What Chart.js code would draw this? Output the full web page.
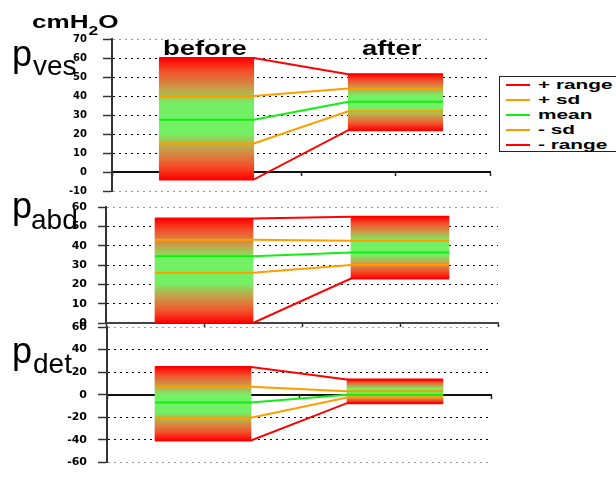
<!DOCTYPE html>
<html><head><meta charset="utf-8">
<script src="https://cdn.jsdelivr.net/npm/chart.js@4/dist/chart.umd.min.js"></script>
<style>
html,body{margin:0;padding:0;background:#fff;overflow:hidden;width:616px;height:480px;}
#wrap{position:relative;width:616px;height:480px;overflow:hidden;background:#fff;}
canvas{position:absolute;left:0;top:0;}
.t{position:absolute;white-space:nowrap;line-height:1;transform-origin:0 0;color:#000;}
.b{font-family:'Liberation Sans',Arial,sans-serif;font-weight:bold;}
.r{font-family:'Liberation Sans',Arial,sans-serif;font-weight:normal;}
#legend{position:absolute;left:499px;top:76px;width:140px;height:76px;box-sizing:border-box;border:1.5px solid #222;background:#fff;}
.lg-line{position:absolute;height:2px;width:24px;}
</style></head><body><div id="wrap">
<canvas id="c1" width="616" height="480"></canvas>
<canvas id="c2" width="616" height="480"></canvas>
<canvas id="c3" width="616" height="480"></canvas>
</div>
<script>
// ---------------- data ----------------
const categories = ['before', 'after'];
const seriesNames = ['+ range', '+ sd', 'mean', '- sd', '- range'];
const seriesColors = ['#ff0000', '#ff9d00', '#12ee12', '#ff9d00', '#ff0000'];

const pvesBefore = [60, 40, 27.5, 15, -4];
const pvesAfter  = [51.5, 44, 37, 32, 22];
const pabdBefore = [54, 43, 34.5, 26, 0];
const pabdAfter  = [55, 42.5, 36.5, 30, 23];
const pdetBefore = [24.5, 7, -7, -20.5, -40.5];
const pdetAfter  = [13.5, 3, 0, -2.5, -7.5];

const pvesTicks = [-10, 70, 10];   // min, max, step
const pabdTicks = [0, 60, 10];
const pdetTicks = [-60, 60, 20];

// ---------------- layout / style ----------------
Chart.defaults.font.family = "'DejaVu Sans', sans-serif";
const panels = [
  {id:'c1', before:pvesBefore, after:pvesAfter, ticks:pvesTicks, sub:'ves',
   left:112, right:490, top:39, bottom:191, font:10, tickLen:9, pad:16, xBorder:'#111',
   pTop:35.5, subTop:51.5, subLeft:33},
  {id:'c2', before:pabdBefore, after:pabdAfter, ticks:pabdTicks, sub:'abd',
   left:106, right:498, top:207, bottom:323, font:11, tickLen:8, pad:11, xBorder:'#444',
   pTop:187.5, subTop:205.5, subLeft:31},
  {id:'c3', before:pdetBefore, after:pdetAfter, ticks:pdetTicks, sub:'det',
   left:107, right:491, top:327, bottom:474, font:11, tickLen:9, pad:11, xBorder:'#111',
   pTop:332.5, subTop:349.5, subLeft:33}
];
const W = 616, H = 480;
const catX = categories.map((c, i) => 1 + 2 * i);

function barFill(ctx) {
  const fallback = '#74f064';
  if (ctx.type !== 'data') return fallback;
  const chart = ctx.chart, ys = chart.scales && chart.scales.y;
  if (!chart.chartArea || !ys || !ctx.raw) return fallback;
  const r = ctx.raw.y;
  const t = ys.getPixelForValue(Math.max(r[0], r[1]));
  const b = ys.getPixelForValue(Math.min(r[0], r[1]));
  if (!isFinite(t) || !isFinite(b) || b - t < 1) return fallback;
  const g = chart.ctx.createLinearGradient(0, t, 0, b);
  g.addColorStop(0, '#ff0000');
  g.addColorStop(0.12, '#f2552e');
  g.addColorStop(0.26, '#c6a24a');
  g.addColorStop(0.38, '#74f064');
  g.addColorStop(0.62, '#74f064');
  g.addColorStop(0.74, '#c6a24a');
  g.addColorStop(0.88, '#f2552e');
  g.addColorStop(1, '#ff0000');
  return g;
}

panels.forEach(p => {
  const [ymin, ymax, ystep] = p.ticks;
  const datasets = [];
  seriesNames.forEach((name, i) => {
    datasets.push({
      type: 'line', label: name, order: 0,
      data: [
        {x: catX[0] - 0.5, y: p.before[i]}, {x: catX[0] + 0.5, y: p.before[i]},
        {x: catX[1] - 0.5, y: p.after[i]},  {x: catX[1] + 0.5, y: p.after[i]}
      ],
      borderColor: seriesColors[i], borderWidth: 2, pointRadius: 0, fill: false, tension: 0
    });
  });
  datasets.push({
    type: 'bar', label: 'range', order: 10,
    data: categories.map((c, i) => {
      const v = i === 0 ? p.before : p.after;
      return {x: catX[i], y: [v[4], v[0]]};
    }),
    backgroundColor: barFill, borderWidth: 0,
    barPercentage: 1, categoryPercentage: 1
  });

  new Chart(document.getElementById(p.id), {
    type: 'bar',
    data: {datasets},
    options: {
      responsive: false, animation: false, devicePixelRatio: 1, events: [],
      layout: {padding: {left: 0, right: W - p.right, top: p.top, bottom: H - p.bottom}},
      plugins: {legend: {display: false}, tooltip: {enabled: false}, title: {display: false}},
      scales: {
        x: {
          type: 'linear', min: 0, max: 4, offset: false, position: {y: 0}, z: 2,
          ticks: {display: false, stepSize: 1},
          grid: {drawOnChartArea: false, offset: false, tickLength: 3, tickColor: '#222', tickWidth: 1.5},
          border: {color: p.xBorder, width: 2},
          afterFit: s => { s.height = 0; }
        },
        y: {
          type: 'linear', min: ymin, max: ymax, z: 1,
          ticks: {stepSize: ystep, color: '#000', padding: p.pad,
                  font: {family: "'DejaVu Sans', sans-serif", weight: 'bold', size: p.font}},
          grid: {
            lineWidth: 1, tickLength: p.tickLen, tickColor: '#333', tickWidth: 1.5,
            color: c => {
              const v = c.tick ? c.tick.value : null;
              if (v === 0) return 'rgba(0,0,0,0)';
              if (v === ymin || v === ymax) return '#999';
              return '#000';
            }
          },
          border: {color: '#333', width: 2, dash: [2, 4]},
          afterFit: s => { s.width = p.left; }
        }
      }
    }
  });

  // panel label p_xxx
  const wrap = document.getElementById('wrap');
  const pl = document.createElement('div');
  pl.className = 't r'; pl.style.left = '12px'; pl.style.top = p.pTop + 'px';
  pl.style.fontSize = '36px'; pl.textContent = 'p';
  wrap.appendChild(pl);
  const sl = document.createElement('div');
  sl.className = 't r'; sl.style.left = p.subLeft + 'px'; sl.style.top = p.subTop + 'px';
  sl.style.fontSize = '28px'; sl.textContent = p.sub;
  wrap.appendChild(sl);
});

// texts: unit, category titles, legend
(function(){
  const wrap = document.getElementById('wrap');
  const u = document.createElement('div');
  u.className = 't b'; u.style.left = '32px'; u.style.top = '13px'; u.style.fontSize = '18px';
  u.style.transform = 'scaleX(1.45)';
  u.innerHTML = 'cmH<span style="font-size:12px;position:relative;top:7px">2</span>O';
  wrap.appendChild(u);

  const titleLeft = [163, 362];
  categories.forEach((c, i) => {
    const d = document.createElement('div');
    d.className = 't b'; d.style.left = titleLeft[i] + 'px'; d.style.top = '38px';
    d.style.fontSize = '20px'; d.style.transform = 'scaleX(1.37)';
    d.textContent = c;
    wrap.appendChild(d);
  });

  const lg = document.createElement('div'); lg.id = 'legend'; wrap.appendChild(lg);
  seriesNames.forEach((name, i) => {
    const y = 85 + 15 * i;
    const ln = document.createElement('div');
    ln.className = 'lg-line'; ln.style.left = '506px'; ln.style.top = (y - 1) + 'px';
    ln.style.backgroundColor = seriesColors[i];
    wrap.appendChild(ln);
    const tx = document.createElement('div');
    tx.className = 't b'; tx.style.left = '538px'; tx.style.top = (y - 7) + 'px';
    tx.style.fontSize = '13px'; tx.style.transform = 'scaleX(1.6)';
    tx.textContent = name;
    wrap.appendChild(tx);
  });
})();
</script>
</body></html>
